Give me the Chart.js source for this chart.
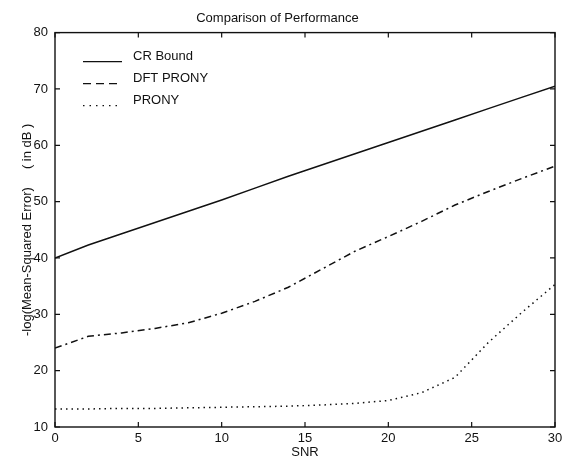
<!DOCTYPE html>
<html lang="en">
<head>
    <meta charset="UTF-8">
    <title>Comparison of Performance</title>
    <script src="https://cdn.jsdelivr.net/npm/chart.js"></script>
    <style>
        html, body { margin: 0; padding: 0; background: #fff; }
        #wrap { width: 578px; height: 462px; }
    </style>
</head>
<body>
    <div id="wrap"><canvas id="perfChart" width="578" height="462"></canvas></div>

    <script>
        // values
        const snr = [0, 2, 4, 6, 8, 10, 12, 14, 16, 18, 20, 22, 24, 26, 28, 30];
        const crBound = [40, 42.3, 44.3, 46.3, 48.3, 50.3, 52.4, 54.5, 56.5, 58.5, 60.5, 62.5, 64.5, 66.5, 68.5, 70.5];
        const dftProny = [24, 26.1, 26.7, 27.5, 28.5, 30.2, 32.3, 34.8, 38, 41.2, 43.8, 46.5, 49.4, 51.8, 54.1, 56.3];
        const prony = [13.2, 13.2, 13.3, 13.3, 13.4, 13.5, 13.6, 13.7, 13.9, 14.2, 14.7, 16.1, 18.8, 25.0, 30.3, 35.3];
        const xTicks = [0, 5, 10, 15, 20, 25, 30];
        const yTicks = [10, 20, 30, 40, 50, 60, 70, 80];

        const font = "'Liberation Sans', Arial, sans-serif";
        const ink = '#111';

        const toPoints = ys => ys.map((y, i) => ({ x: snr[i], y: y }));

        // frame box with inward ticks, and the legend inside the plot
        const framePlugin = {
            id: 'frame',
            afterDraw(chart) {
                const ctx = chart.ctx;
                const a = chart.chartArea;
                const xs = chart.scales.x;
                const ys = chart.scales.y;
                ctx.save();
                ctx.strokeStyle = ink;
                ctx.lineWidth = 1.4;
                ctx.setLineDash([]);
                ctx.strokeRect(a.left, a.top, a.right - a.left, a.bottom - a.top);
                ctx.lineWidth = 1.2;
                ctx.beginPath();
                xTicks.forEach(v => {
                    const px = xs.getPixelForValue(v);
                    ctx.moveTo(px, a.bottom); ctx.lineTo(px, a.bottom - 5);
                    ctx.moveTo(px, a.top); ctx.lineTo(px, a.top + 5);
                });
                yTicks.forEach(v => {
                    const py = ys.getPixelForValue(v);
                    ctx.moveTo(a.left, py); ctx.lineTo(a.left + 5, py);
                    ctx.moveTo(a.right, py); ctx.lineTo(a.right - 5, py);
                });
                ctx.stroke();

                // legend
                const items = [
                    { text: 'CR Bound', dash: [] },
                    { text: 'DFT PRONY', dash: [8, 5] },
                    { text: 'PRONY', dash: [1.5, 5] }
                ];
                ctx.font = '13px ' + font;
                ctx.fillStyle = ink;
                ctx.textBaseline = 'middle';
                items.forEach((it, i) => {
                    const y = a.top + 24 + i * 22;
                    ctx.lineWidth = 1.4;
                    ctx.setLineDash(it.dash);
                    ctx.beginPath();
                    ctx.moveTo(a.left + 28, y + 5);
                    ctx.lineTo(a.left + 67, y + 5);
                    ctx.stroke();
                    ctx.setLineDash([]);
                    ctx.fillText(it.text, a.left + 78, y);
                });
                ctx.restore();
            }
        };

        const ctx = document.getElementById('perfChart').getContext('2d');
        const perfChart = new Chart(ctx, {
            type: 'line',
            data: {
                datasets: [
                    {
                        label: 'CR Bound',
                        data: toPoints(crBound),
                        borderColor: ink,
                        borderWidth: 1.5
                    },
                    {
                        label: 'DFT PRONY',
                        data: toPoints(dftProny),
                        borderColor: ink,
                        borderWidth: 1.5,
                        borderDash: [7, 4, 2, 4]
                    },
                    {
                        label: 'PRONY',
                        data: toPoints(prony),
                        borderColor: ink,
                        borderWidth: 1.5,
                        borderDash: [1.5, 4]
                    }
                ]
            },
            options: {
                responsive: false,
                animation: false,
                events: [],
                elements: {
                    point: { radius: 0 },
                    line: { tension: 0 }
                },
                layout: { padding: { left: 0, right: 23, top: 0, bottom: 0 } },
                plugins: {
                    legend: { display: false },
                    tooltip: { enabled: false },
                    title: {
                        display: true,
                        text: 'Comparison of Performance',
                        color: ink,
                        font: { family: font, size: 13, weight: 'normal' },
                        padding: { top: 11, bottom: 6 }
                    }
                },
                scales: {
                    x: {
                        type: 'linear',
                        min: 0,
                        max: 30,
                        afterBuildTicks: scale => { scale.ticks = xTicks.map(v => ({ value: v })); },
                        afterFit: scale => { scale.height = 35; },
                        grid: { display: false, drawTicks: false },
                        border: { display: false },
                        ticks: {
                            color: ink,
                            padding: 4,
                            maxRotation: 0,
                            font: { family: font, size: 13 }
                        },
                        title: {
                            display: true,
                            text: 'SNR',
                            color: ink,
                            font: { family: font, size: 13 },
                            padding: { top: 0, bottom: 2 }
                        }
                    },
                    y: {
                        type: 'linear',
                        min: 10,
                        max: 80,
                        afterBuildTicks: scale => { scale.ticks = yTicks.map(v => ({ value: v })); },
                        afterFit: scale => { scale.width = 55; },
                        grid: { display: false, drawTicks: false },
                        border: { display: false },
                        ticks: {
                            color: ink,
                            padding: 7,
                            font: { family: font, size: 13 }
                        },
                        title: {
                            display: true,
                            text: '-log(Mean-Squared Error)     ( in dB )',
                            color: ink,
                            font: { family: font, size: 13 },
                            padding: { top: 20, bottom: 0 }
                        }
                    }
                }
            },
            plugins: [framePlugin]
        });
    </script>
</body>
</html>
